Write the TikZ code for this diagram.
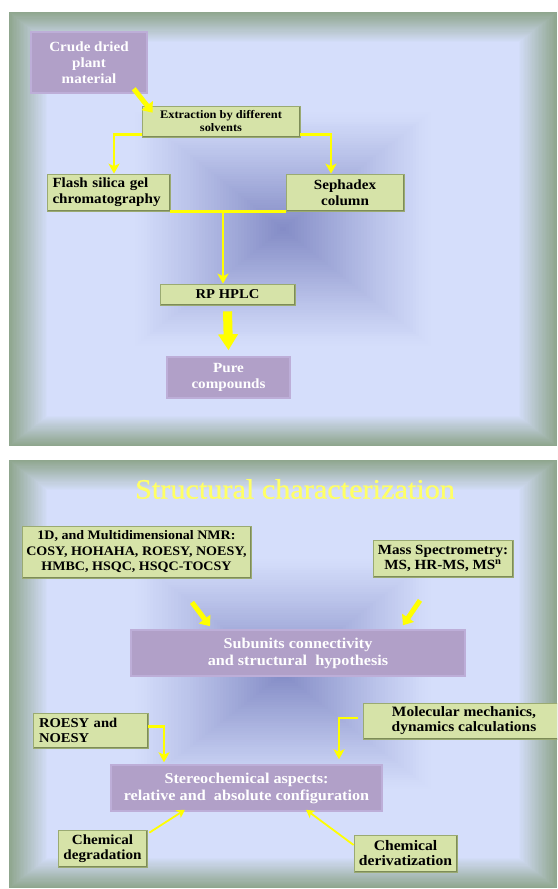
\documentclass[tikz,border=0pt]{standalone}
\usepackage{fontspec}
\setmainfont{Liberation Serif}[FakeStretch=1.08]
\newfontfamily\mytitlefont{Liberation Serif}[FakeStretch=1.08,FakeBold=0.9]
\usetikzlibrary{arrows.meta,shadows,calc}
\definecolor{framec}{HTML}{8FA68E}
\definecolor{lightc}{HTML}{D5DEFB}
\definecolor{darkc}{HTML}{7E86C2}
\definecolor{gfill}{HTML}{D6E3A8}
\definecolor{gedge}{HTML}{9AAA72}
\definecolor{gdark}{HTML}{7D8C58}
\definecolor{pfill}{HTML}{B1A0C8}
\definecolor{pedge}{HTML}{BDAED8}
\definecolor{arrowy}{HTML}{FFFF00}
\definecolor{titley}{HTML}{FFFF66}
\newcommand\mypanelbg[4]{%
  \fill[framec] ({#1-#3},{#2-#4}) rectangle ({#1+#3},{#2+#4});
  \foreach \i in {1,...,28}{%
    \pgfmathsetmacro\myt{1-\i*0.005}
    \pgfmathtruncatemacro\myp{\i*100/28}
    \fill[lightc!\myp!framec] ({#1-\myt*#3},{#2-\myt*#4}) rectangle ({#1+\myt*#3},{#2+\myt*#4});
  }
  \foreach \i in {1,...,50}{%
    \pgfmathsetmacro\myt{0.55*(1-\i/50)}
    \pgfmathtruncatemacro\myp{95*(\i/50)^1.1}
    \fill[darkc!\myp!lightc] ({#1-\myt*#3},{#2-\myt*#4}) rectangle ({#1+\myt*#3},{#2+\myt*#4});
  }
}
\tikzset{
  gbox/.style={fill=gfill, draw=gedge, line width=0.7pt, inner sep=0pt,
    drop shadow={shadow xshift=1.3pt, shadow yshift=-1.3pt, opacity=0.35, fill=black},
    path picture={\draw[gdark, line width=2.4pt]
      (path picture bounding box.south west) -- (path picture bounding box.south east)
      -- (path picture bounding box.north east);}},
  pbox/.style={fill=pfill, draw=pedge, line width=1.5pt, inner sep=0pt, text=white},
  bigarrow/.style={draw=arrowy, line width=5pt, -{Triangle[length=9pt,width=14pt]}},
  fatarrow/.style={draw=arrowy, line width=9pt, -{Triangle[length=16pt,width=19pt]}},
  elbow/.style={draw=arrowy, line width=2.6pt, -{Stealth[length=10pt,width=11pt,inset=2.5pt]}},
  plainline/.style={draw=arrowy, line width=2.6pt},
  thinarrow/.style={draw=arrowy, line width=1.8pt, -{Stealth[length=8pt,width=9pt,inset=2pt]}},
  fA/.style={font=\bfseries\fontsize{14}{16}\selectfont},
  fB/.style={font=\bfseries\fontsize{13}{15.5}\selectfont},
  fC/.style={font=\bfseries\fontsize{11.5}{13}\selectfont},
}
\begin{document}
\begin{tikzpicture}[x=1pt,y=-1pt]
\useasboundingbox (0,0) rectangle (557,889);
\fill[white] (0,0) rectangle (557,889);
\mypanelbg{283}{229}{274}{217}
\mypanelbg{283}{674}{274}{214}

% ---------- panel 1 ----------
\node[pbox, minimum width=116pt, minimum height=61pt, align=center,
  font=\bfseries\fontsize{14}{16}\selectfont] (crude) at (89,62.5) {Crude dried\\plant\\material};
\node[gbox, fC, minimum width=158pt, minimum height=31pt, align=center] (ext) at (221,121.5)
  {Extraction by different\\solvents};
\node[gbox, fA, minimum width=123pt, minimum height=37pt, text width=112pt, align=left] (flash)
  at (108.5,192.5) {Flash silica gel\\chromatography};
\node[gbox, fA, minimum width=118pt, minimum height=37pt, align=center] (seph) at (345,192.5)
  {Sephadex\\column};
\node[gbox, minimum width=135pt, minimum height=21pt, align=center,
  font=\bfseries\fontsize{13.5}{16}\selectfont] (rp) at (227.5,294.5) {RP HPLC};
\node[pbox, minimum width=123pt, minimum height=41pt, align=center,
  font=\bfseries\fontsize{14}{16}\selectfont] (pure) at (228.5,377.5) {Pure\\compounds};

\draw[bigarrow] ([xshift=-14pt,yshift=5pt]crude.south east) -- ([xshift=11pt,yshift=-7pt]ext.north west);
\draw[elbow] ([yshift=3pt]ext.south west) -| ([xshift=5.5pt]flash.north);
\draw[elbow] ([yshift=3pt]ext.south east) -| ([xshift=-14pt]seph.north);
\draw[plainline] (flash.south east) -- (seph.south west);
\coordinate (merge) at (223,211);
\draw[elbow] (merge) -- (merge |- rp.north);
\draw[fatarrow] ([yshift=-6pt]rp.south) -- ([yshift=6pt]pure.north);

% ---------- panel 2 ----------
\node[text=titley, font=\mytitlefont\fontsize{28}{30}\selectfont] (title) at (295,489) {Structural characterization};
\node[gbox, fB, minimum width=229pt, minimum height=52pt, align=center] (nmr) at (136.5,552)
  {1D, and Multidimensional NMR:\\COSY, HOHAHA, ROESY, NOESY,\\HMBC, HSQC, HSQC-TOCSY};
\node[gbox, minimum width=140pt, minimum height=37pt, align=center,
  font=\bfseries\fontsize{14}{15.5}\selectfont] (ms) at (443,558.5)
  {Mass Spectrometry:\\MS, HR-MS, MS\textsuperscript{n}};
\node[pbox, minimum width=334pt, minimum height=46pt, align=center,
  font=\bfseries\fontsize{15}{17}\selectfont] (sub) at (298,653)
  {Subunits connectivity\\and structural\ \ hypothesis};
\node[gbox, minimum width=115pt, minimum height=35pt, text width=103pt, align=left,
  font=\bfseries\fontsize{13.5}{14.5}\selectfont] (roesy) at (90.5,730.5) {ROESY and\\NOESY};
\begin{scope}
\clip (0,0) rectangle (557,889);
\node[gbox, minimum width=202pt, minimum height=36pt, align=center,
  font=\bfseries\fontsize{14.3}{15}\selectfont] (mol) at (464,721)
  {Molecular mechanics,\\dynamics calculations};
\end{scope}
\node[pbox, minimum width=271pt, minimum height=46pt, align=center,
  font=\bfseries\fontsize{15}{17}\selectfont] (stereo) at (246.5,788)
  {Stereochemical aspects:\\relative and\ \ absolute configuration};
\node[gbox, minimum width=89pt, minimum height=37pt, align=center,
  font=\bfseries\fontsize{14}{15}\selectfont] (deg) at (102.5,848.5) {Chemical\\degradation};
\node[gbox, minimum width=103pt, minimum height=37pt, align=center,
  font=\bfseries\fontsize{14.5}{15}\selectfont] (deriv) at (405.5,853.5) {Chemical\\derivatization};

\draw[bigarrow] ([xshift=55.5pt,yshift=-24pt]nmr.south) -- ([xshift=-88pt,yshift=3pt]sub.north);
\draw[bigarrow] ([xshift=-23pt,yshift=-23pt]ms.south) -- ([xshift=105pt,yshift=4pt]sub.north);
\draw[elbow] ([yshift=4pt]roesy.east) -| ([xshift=-82.5pt,yshift=2pt]stereo.north);
\draw[elbow] ([xshift=-5pt,yshift=3pt]mol.west) -| ([xshift=92.5pt,yshift=5pt]stereo.north);
\draw[thinarrow] ([xshift=2pt,yshift=-3pt]deg.north east) -- ([xshift=-61.5pt,yshift=2pt]stereo.south);
\draw[thinarrow] ([yshift=8.5pt]deriv.west) -- ([xshift=59.5pt,yshift=2pt]stereo.south);
\end{tikzpicture}
\end{document}
